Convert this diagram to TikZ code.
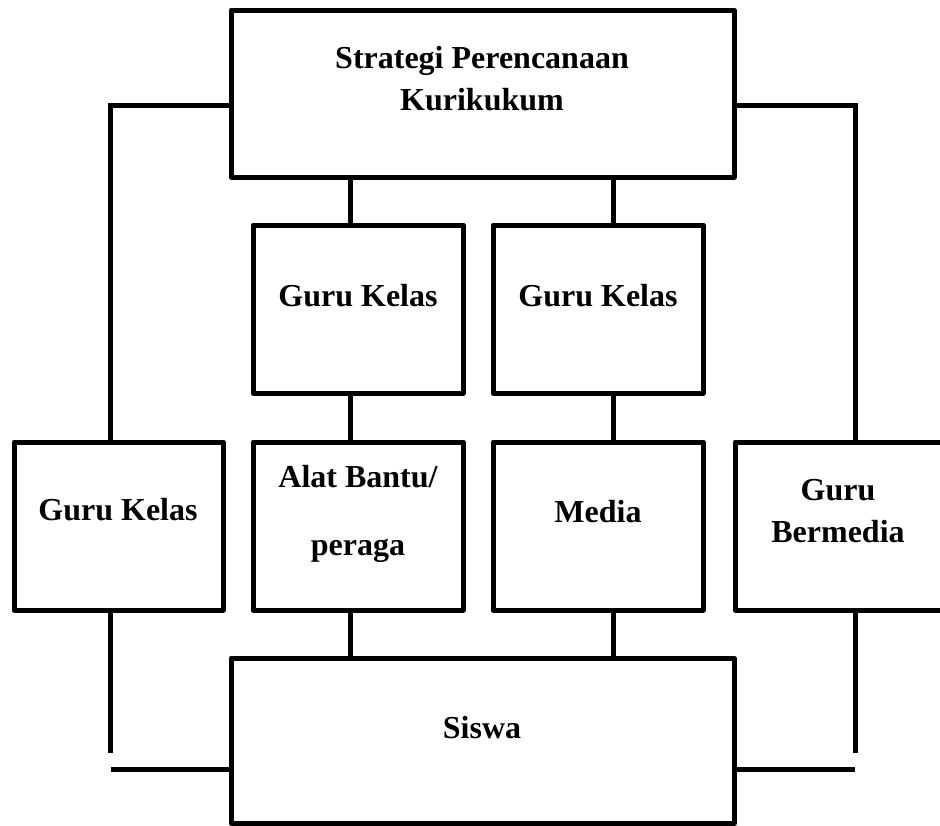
\documentclass[tikz,border=0pt]{standalone}
\usepackage{fontspec}
\setmainfont{Liberation Serif}
\begin{document}
\begin{tikzpicture}[x=1pt,y=-1pt,
  box/.style={draw, line width=5pt, rectangle, inner sep=0pt, outer sep=0pt, line join=round},
  lab/.style={font=\fontsize{32}{42}\selectfont\bfseries, anchor=base, inner sep=0pt, align=center},
  con/.style={line width=5pt}]
\clip (0,0) rectangle (940,825);
% boxes
\node[box, minimum width=503pt, minimum height=167pt] (top)   at (482.5,93.5) {};
\node[box, minimum width=210pt, minimum height=168pt] (gk1)   at (358,309) {};
\node[box, minimum width=210pt, minimum height=168pt] (gk2)   at (598,309) {};
\node[box, minimum width=209pt, minimum height=168pt] (gk0)   at (118.5,526) {};
\node[box, minimum width=210pt, minimum height=168pt] (alat)  at (358,526) {};
\node[box, minimum width=210pt, minimum height=168pt] (media) at (598,526) {};
\node[box, minimum width=210pt, minimum height=168pt] (berm)  at (840,526) {};
\node[box, minimum width=503pt, minimum height=165pt] (siswa) at (482.5,740.5) {};
% texts (base = baseline of the last line)
\node[lab] (ttop)   at (482,110) {Strategi Perencanaan\\Kurikukum};
\node[lab] (tgk1)   at (358,306) {Guru Kelas};
\node[lab] (tgk2)   at (598,306) {Guru Kelas};
\node[lab] (tgk0)   at (118,520) {Guru Kelas};
\node[lab] (talat)  at (358,555) {Alat Bantu/\\[26pt]peraga};
\node[lab] (tmedia) at (598,522) {Media};
\node[lab] (tberm)  at (838,542) {Guru\\Bermedia};
\node[lab] (tsiswa) at (482,738) {Siswa};
% connectors
\draw[con] (top.west |- 0,105) -| (gk0.north -| 110,0);
\draw[con] (top.east |- 0,105) -| (berm.north -| 855,0);
\draw[con] (top.south -| 350,0) -- (gk1.north -| 350,0);
\draw[con] (gk1.south -| 350,0) -- (alat.north -| 350,0);
\draw[con] (alat.south -| 350,0) -- (siswa.north -| 350,0);
\draw[con] (top.south -| 613,0) -- (gk2.north -| 613,0);
\draw[con] (gk2.south -| 613,0) -- (media.north -| 613,0);
\draw[con] (media.south -| 613,0) -- (siswa.north -| 613,0);
\coordinate (bl1) at (110,753);
\coordinate (bl2) at (111,769);
\coordinate (br1) at (855,753);
\coordinate (br2) at (855,769);
\draw[con] (gk0.south -| 110,0) -- (bl1);
\draw[con] (bl2) -- (siswa.west |- 0,769);
\draw[con] (berm.south -| 855,0) -- (br1);
\draw[con] (siswa.east |- 0,769) -- (br2);
\end{tikzpicture}
\end{document}
